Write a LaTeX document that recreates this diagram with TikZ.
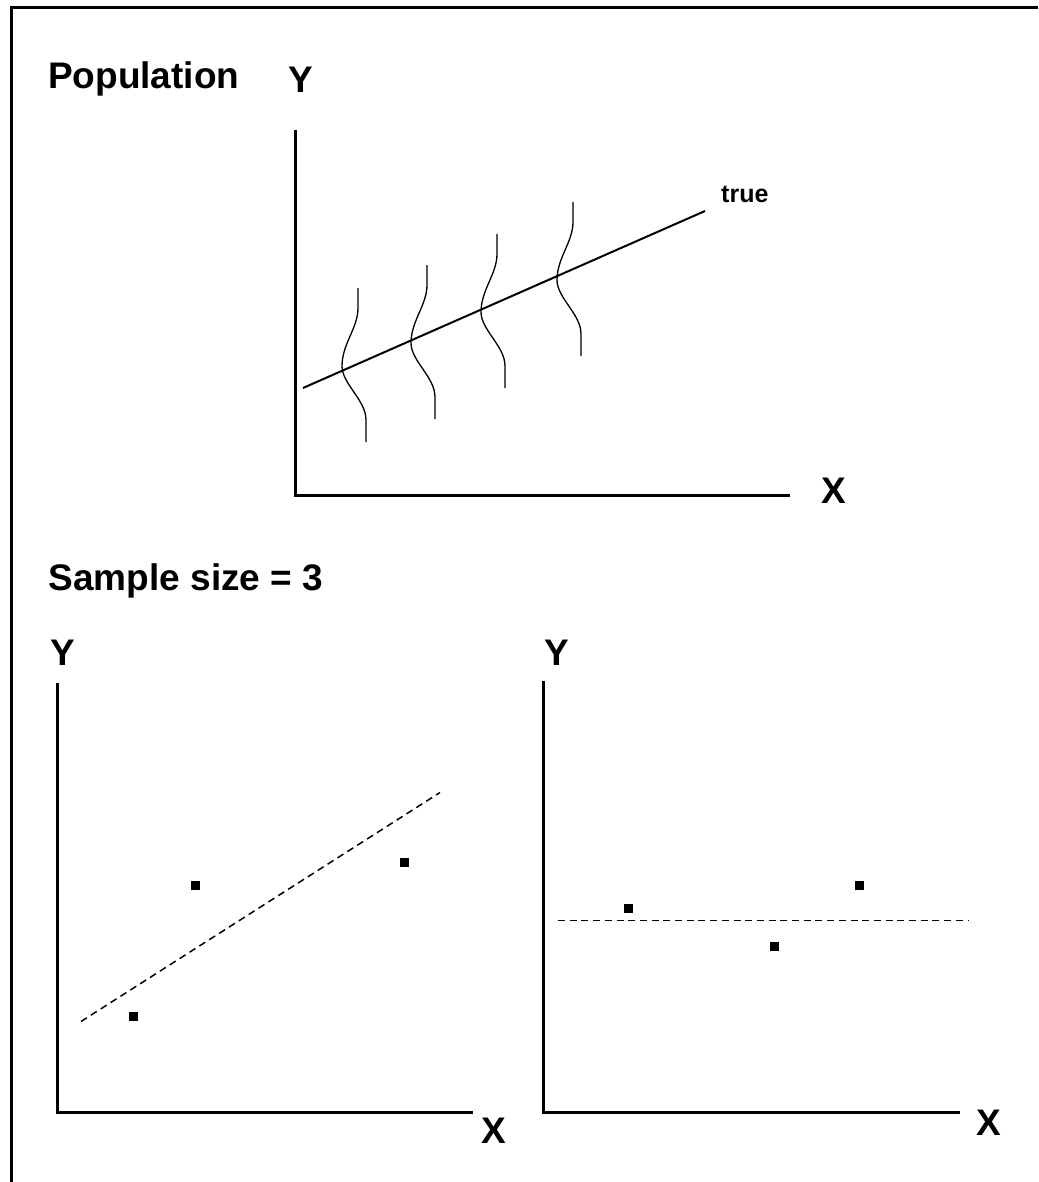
\documentclass[tikz,border=0pt]{standalone}
\usepackage{fontspec}
\setmainfont{Liberation Sans}
\begin{document}
\begin{tikzpicture}[x=1pt,y=-1pt,
  lbl/.style={inner sep=0pt,anchor=base west,font=\bfseries\fontsize{37pt}{40pt}\selectfont},
  smalllbl/.style={inner sep=0pt,anchor=base west,font=\bfseries\fontsize{25pt}{28pt}\selectfont},
  axis/.style={line width=3pt,line join=miter},
  frameline/.style={line width=3pt,line join=miter},
  trueline/.style={line width=2pt},
  fitline/.style={line width=1.5pt,dash pattern=on 7pt off 4.7pt},
  wavy/.style={line width=1.3pt},
  pt/.style={fill=black,draw=none,minimum size=9pt,inner sep=0pt,rectangle},
  wave/.pic={\draw[wavy] (0,0) -- (0,20) .. controls (0,40) and (-16,56) .. (-16,78)
     .. controls (-16,96) and (8,112) .. (8,132) -- (8,154);}
]
\useasboundingbox (0,0) rectangle (1038,1182);
% frame
\draw[frameline] (11.5,1182) -- (11.5,7.5) -- (1038,7.5);

% ---------- Population ----------
\node[lbl] (poptitle) at (48,89) {Population};
\node[lbl] (popY) at (288,93) {Y};
\node[lbl] (popX) at (821,503) {X};
\coordinate (pTop) at (295,130);
\coordinate (pO) at (295,495);
\coordinate (pRight) at (790,495);
\draw[axis] (pTop) -- (pO) -- (pRight);
\coordinate (tA) at (303,388);
\coordinate (tB) at (705,211);
\draw[trueline] (tA) -- (tB);
\node[smalllbl] (truelbl) at (721,203) {true};
\pic at (358,288) {wave};
\pic at (427,265) {wave};
\pic at (497,234) {wave};
\pic at (573,202) {wave};

% ---------- Sample ----------
\node[lbl] (sampletitle) at (48.5,590) {Sample size = 3};

% left plot
\node[lbl] (lY) at (50.5,665) {Y};
\node[lbl] (lX) at (481.5,1143) {X};
\coordinate (lTop) at (57,683);
\coordinate (lO) at (57,1112.5);
\coordinate (lRight) at (473,1112.5);
\draw[axis] (lTop) -- (lO) -- (lRight);
\coordinate (lfA) at (81,1021.5);
\coordinate (lfB) at (440,792.5);
\draw[fitline] (lfA) -- (lfB);
\node[pt] (l1) at (133.3,1016.7) {};
\node[pt] (l2) at (195.3,885.3) {};
\node[pt] (l3) at (404.3,862.3) {};

% right plot
\node[lbl] (rY) at (544,665) {Y};
\node[lbl] (rX) at (976.5,1135) {X};
\coordinate (rTop) at (543,681);
\coordinate (rO) at (543,1112);
\coordinate (rRight) at (960,1112);
\draw[axis] (rTop) -- (rO) -- (rRight);
\coordinate (rfA) at (558,920.7);
\coordinate (rfB) at (968,920.7);
\draw[fitline] (rfA) -- (rfB);
\node[pt] (r1) at (628.3,908.3) {};
\node[pt] (r2) at (774.3,946) {};
\node[pt] (r3) at (859.3,885) {};
\end{tikzpicture}
\end{document}
